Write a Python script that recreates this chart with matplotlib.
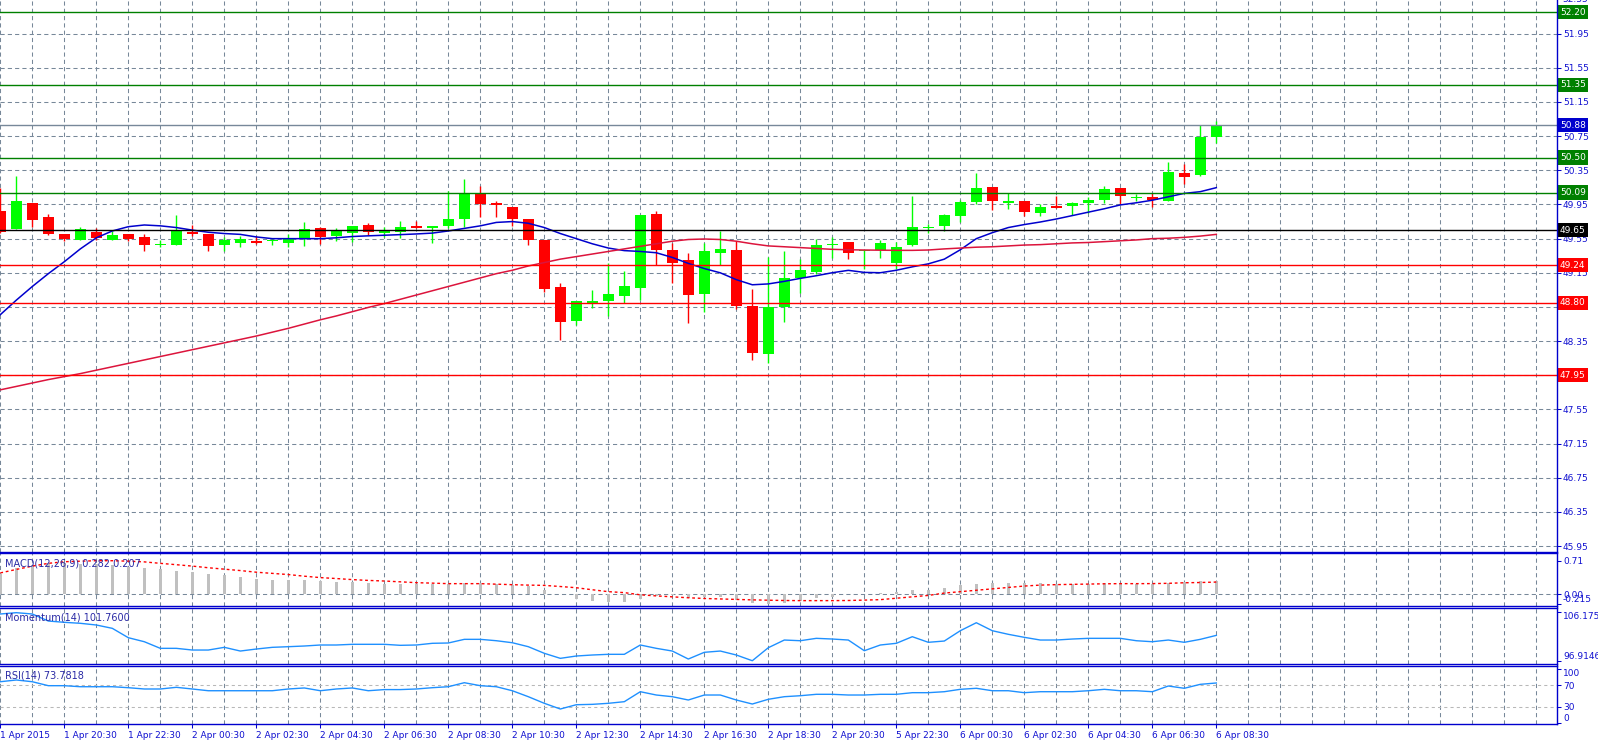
import numpy as np
import matplotlib.pyplot as plt
from matplotlib.lines import Line2D
from matplotlib.transforms import offset_copy

# ---- data: 30 min candles, index 0 = 1 Apr 18:30 ----
opens = [49.873, 49.663, 49.967, 49.803, 49.604, 49.538, 49.628, 49.538, 49.604, 49.569,
         49.477, 49.476, 49.632, 49.604, 49.476, 49.503, 49.526, 49.522, 49.499, 49.554,
         49.675, 49.581, 49.620, 49.710, 49.616, 49.632, 49.698, 49.675, 49.702, 49.784,
         50.073, 49.971, 49.920, 49.780, 49.538, 48.984, 48.586, 48.793, 48.820, 48.878,
         48.972, 49.839, 49.417, 49.300, 48.902, 49.382, 49.417, 48.761, 48.203, 48.750,
         49.089, 49.159, 49.481, 49.511, 49.408, 49.417, 49.265, 49.476, 49.680, 49.702,
         49.815, 49.979, 50.155, 49.973, 49.991, 49.854, 49.932, 49.932, 49.971, 50.006,
         50.143, 50.028, 50.038, 49.995, 50.322, 50.295, 50.744]
highs = [50.139, 50.283, 49.967, 49.838, 49.604, 49.686, 49.675, 49.635, 49.604, 49.604,
         49.534, 49.827, 49.706, 49.604, 49.565, 49.585, 49.585, 49.550, 49.604, 49.749,
         49.690, 49.671, 49.702, 49.733, 49.690, 49.757, 49.757, 49.698, 50.108, 50.248,
         50.166, 49.990, 49.920, 49.780, 49.538, 49.027, 48.820, 48.949, 49.261, 49.171,
         49.827, 49.874, 49.503, 49.382, 49.499, 49.643, 49.522, 48.960, 49.339, 49.405,
         49.312, 49.546, 49.565, 49.511, 49.414, 49.534, 49.511, 50.049, 49.717, 49.839,
         50.002, 50.322, 50.155, 50.088, 49.991, 49.956, 50.053, 49.983, 50.041, 50.166,
         50.143, 50.069, 50.080, 50.451, 50.424, 50.880, 50.927]
lows = [49.620, 49.663, 49.690, 49.589, 49.522, 49.538, 49.538, 49.538, 49.522, 49.409,
        49.456, 49.476, 49.581, 49.409, 49.405, 49.456, 49.487, 49.479, 49.456, 49.468,
        49.483, 49.526, 49.514, 49.592, 49.573, 49.561, 49.675, 49.503, 49.678, 49.690,
        49.807, 49.807, 49.702, 49.479, 48.929, 48.363, 48.543, 48.742, 48.644, 48.793,
        48.835, 49.237, 49.034, 48.566, 48.695, 49.237, 48.726, 48.129, 48.090, 48.574,
        48.917, 49.136, 49.327, 49.312, 49.194, 49.323, 49.194, 49.464, 49.616, 49.640,
        49.749, 49.956, 49.885, 49.897, 49.819, 49.815, 49.913, 49.827, 49.846, 49.963,
        49.956, 49.991, 49.924, 49.995, 50.190, 50.283, 50.666]
closes = [49.624, 49.991, 49.768, 49.608, 49.542, 49.663, 49.557, 49.596, 49.546, 49.476,
          49.481, 49.643, 49.608, 49.464, 49.538, 49.542, 49.503, 49.526, 49.550, 49.663,
          49.573, 49.643, 49.702, 49.632, 49.651, 49.686, 49.675, 49.698, 49.780, 50.088,
          49.959, 49.940, 49.780, 49.538, 48.964, 48.578, 48.820, 48.820, 48.902, 48.996,
          49.827, 49.417, 49.269, 48.890, 49.405, 49.429, 48.765, 48.215, 48.753, 49.089,
          49.183, 49.476, 49.485, 49.382, 49.414, 49.499, 49.452, 49.686, 49.684, 49.827,
          49.983, 50.143, 49.995, 49.977, 49.866, 49.920, 49.913, 49.967, 50.006, 50.131,
          50.053, 50.032, 50.002, 50.334, 50.275, 50.744, 50.880]
ma_fast = [48.66, 48.83, 48.99, 49.14, 49.28, 49.43, 49.56, 49.64, 49.69, 49.71,
           49.70, 49.68, 49.65, 49.625, 49.61, 49.60, 49.57, 49.55, 49.55, 49.55,
           49.55, 49.56, 49.575, 49.583, 49.59, 49.597, 49.605, 49.615, 49.64, 49.67,
           49.70, 49.74, 49.75, 49.73, 49.68, 49.61, 49.55, 49.49, 49.44, 49.41,
           49.40, 49.385, 49.33, 49.26, 49.20, 49.15, 49.07, 49.01, 49.02, 49.05,
           49.085, 49.116, 49.151, 49.179, 49.155, 49.151, 49.18, 49.22, 49.255, 49.31,
           49.42, 49.55, 49.62, 49.68, 49.715, 49.745, 49.78, 49.82, 49.86, 49.90,
           49.945, 49.97, 50.00, 50.04, 50.08, 50.10, 50.147]
ma_slow = [47.78, 47.82, 47.86, 47.90, 47.935, 47.97, 48.01, 48.05, 48.09, 48.13,
           48.17, 48.21, 48.25, 48.29, 48.33, 48.37, 48.41, 48.455, 48.50, 48.55,
           48.60, 48.645, 48.695, 48.745, 48.79, 48.84, 48.89, 48.94, 48.99, 49.04,
           49.09, 49.14, 49.18, 49.23, 49.27, 49.31, 49.34, 49.37, 49.40, 49.43,
           49.46, 49.49, 49.52, 49.54, 49.546, 49.54, 49.52, 49.49, 49.465, 49.455,
           49.445, 49.435, 49.425, 49.42, 49.417, 49.415, 49.413, 49.413, 49.417, 49.43,
           49.44, 49.45, 49.455, 49.465, 49.475, 49.48, 49.49, 49.50, 49.505, 49.515,
           49.525, 49.535, 49.55, 49.555, 49.565, 49.58, 49.60]
macd_hist = [0.437, 0.545, 0.617, 0.654, 0.654, 0.639, 0.639, 0.617, 0.580, 0.545,
             0.524, 0.494, 0.465, 0.422, 0.400, 0.364, 0.329, 0.307, 0.307, 0.292,
             0.277, 0.255, 0.255, 0.234, 0.221, 0.206, 0.221, 0.206, 0.206, 0.234,
             0.234, 0.221, 0.199, 0.162, 0.076, -0.010, -0.104, -0.141, -0.177, -0.177,
             -0.104, -0.032, -0.030, -0.082, -0.060, -0.060, -0.126, -0.199, -0.212, -0.199,
             -0.141, -0.082, -0.060, -0.010, -0.010, 0.018, 0.040, 0.076, 0.090, 0.134,
             0.184, 0.221, 0.240, 0.240, 0.240, 0.240, 0.221, 0.221, 0.221, 0.240,
             0.240, 0.221, 0.221, 0.240, 0.255, 0.270, 0.282]
macd_signal = [0.45, 0.524, 0.595, 0.654, 0.688, 0.70, 0.71, 0.71, 0.70, 0.685,
               0.654, 0.625, 0.595, 0.56, 0.53, 0.50, 0.465, 0.44, 0.415, 0.38,
               0.35, 0.33, 0.307, 0.29, 0.277, 0.26, 0.242, 0.232, 0.221, 0.221,
               0.221, 0.21, 0.199, 0.19, 0.184, 0.16, 0.134, 0.091, 0.05, 0.03,
               -0.017, -0.04, -0.06, -0.08, -0.095, -0.105, -0.115, -0.125, -0.132, -0.138,
               -0.141, -0.141, -0.141, -0.138, -0.13, -0.12, -0.09, -0.06, -0.03, 0.02,
               0.05, 0.08, 0.11, 0.14, 0.17, 0.19, 0.20, 0.206, 0.212, 0.218,
               0.221, 0.221, 0.222, 0.228, 0.24, 0.245, 0.255]
momentum = [105.80, 106.05, 105.80, 104.47, 104.23, 104.04, 103.72, 103.09, 101.32, 100.56,
            99.31, 99.31, 98.99, 98.99, 99.50, 98.80, 99.18, 99.50, 99.62, 99.75,
            99.94, 99.94, 100.07, 100.07, 100.07, 99.88, 99.94, 100.26, 100.32, 101.01,
            101.01, 100.75, 100.37, 99.62, 98.37, 97.42, 97.86, 98.05, 98.18, 98.18,
            99.94, 99.31, 98.80, 97.29, 98.56, 98.80, 98.05, 96.97, 99.43, 100.88,
            100.75, 101.20, 101.07, 100.88, 98.86, 99.94, 100.26, 101.51, 100.45, 100.69,
            102.64, 104.15, 102.64, 101.96, 101.39, 100.88, 100.88, 101.07, 101.20, 101.20,
            101.20, 100.75, 100.56, 100.88, 100.45, 101.01, 101.76]
rsi = [76.1, 79.3, 76.1, 68.8, 68.8, 66.9, 66.9, 66.9, 65.1, 62.7,
       62.7, 65.8, 62.7, 59.5, 59.5, 59.5, 59.5, 59.5, 62.7, 64.6,
       59.5, 62.7, 64.6, 59.5, 61.6, 61.6, 62.7, 65.1, 66.9, 74.3,
       68.8, 66.9, 59.5, 48.5, 36.3, 25.8, 33.7, 34.4, 36.3, 39.3,
       57.7, 51.6, 48.5, 42.4, 51.6, 51.6, 42.4, 35.0, 43.7, 48.5,
       50.3, 52.9, 52.9, 51.6, 51.6, 52.9, 52.9, 55.9, 55.9, 57.7,
       62.1, 64.0, 59.5, 59.5, 55.9, 57.7, 57.7, 57.7, 59.5, 62.1,
       59.5, 59.5, 57.7, 68.2, 64.0, 71.3, 73.78]

levels = [52.20, 51.35, 50.88, 50.50, 50.09, 49.65, 49.24, 48.80, 47.95]
level_line_colors = ['#008000', '#008000', '#778899', '#008000', '#008000',
                     '#000000', '#FF0000', '#FF0000', '#FF0000']
level_box_colors = ['#008000', '#008000', '#0000CD', '#008000', '#008000',
                    '#000000', '#FF0000', '#FF0000', '#FF0000']
time_labels = ['1 Apr 2015', '1 Apr 20:30', '1 Apr 22:30', '2 Apr 00:30', '2 Apr 02:30',
               '2 Apr 04:30', '2 Apr 06:30', '2 Apr 08:30', '2 Apr 10:30', '2 Apr 12:30',
               '2 Apr 14:30', '2 Apr 16:30', '2 Apr 18:30', '2 Apr 20:30', '5 Apr 22:30',
               '6 Apr 00:30', '6 Apr 02:30', '6 Apr 04:30', '6 Apr 06:30', '6 Apr 08:30']
price_ticks = [45.95, 46.35, 46.75, 47.15, 47.55, 47.95, 48.35, 48.75, 49.15, 49.55,
               49.95, 50.35, 50.75, 51.15, 51.55, 51.95]

# ---- layout in pixels ----
W, H = 1598, 744
AX_R = 1556.7
BLUE = '#0000CD'
TXT = '#1010D0'
GRID = '#778899'
FS = 6.5

fig = plt.figure(figsize=(W / 100, H / 100), dpi=100)
fig.patch.set_facecolor('white')


def panel(top, bottom):
    return fig.add_axes([0, 1 - bottom / H, AX_R / W, (bottom - top) / H])


ax = panel(0, 551.7)
ax_macd = panel(553.3, 605.7)
ax_mom = panel(607.7, 664.0)
ax_rsi = panel(666.0, 724.3)

n = len(opens)
x = np.arange(n)
xlim = (-0.02, (AX_R - 0.3) / 16)

for a in (ax, ax_macd, ax_mom, ax_rsi):
    a.set_xlim(*xlim)
    a.set_facecolor('white')
    for s in ('left', 'right'):
        a.spines[s].set_visible(False)
    for s in ('top', 'bottom'):
        a.spines[s].set_color(BLUE)
        a.spines[s].set_linewidth(1.0)
    a.yaxis.tick_right()
    a.tick_params(axis='y', direction='out', length=3, width=0.75, color=BLUE,
                  labelcolor=TXT, labelsize=FS, pad=1.5)
    a.tick_params(axis='x', length=0, labelbottom=False)
    for k in range(0, 98, 2):
        a.axvline(k, color=GRID, lw=0.75, dashes=(4, 3), zorder=0.5)
ax.spines['top'].set_visible(False)

# ---- main price panel ----
ax.set_ylim(45.885, 52.344)
ax.set_yticks(price_ticks)
ax.set_yticklabels([f'{t:.2f}' for t in price_ticks])
ax.grid(axis='y', color=GRID, lw=0.75, dashes=(4, 3), zorder=0.5)
ax.set_axisbelow(True)

o = np.array(opens); c = np.array(closes)
up = c >= o
cols = np.where(up, '#00FF00', '#FF0000')
ax.vlines(x, lows, highs, colors=cols, lw=1.0, zorder=2)
body_lo = np.minimum(o, c)
body_h = np.maximum(np.abs(c - o), 0.012)
ax.bar(x, body_h, bottom=body_lo, width=0.69, color=cols, linewidth=0, zorder=2.5)

ax.plot(x, ma_fast, color='#0000CD', lw=1.1, zorder=3)
ax.plot(x, ma_slow, color='#DC143C', lw=1.1, zorder=3)

box_tr = offset_copy(ax.get_yaxis_transform(), fig=fig, x=3.2, y=0, units='dots')
for lv, lc, bc in zip(levels, level_line_colors, level_box_colors):
    ax.axhline(lv, color=lc, lw=1.0, zorder=3.5)
    ax.text(1.0, lv, f'{lv:.2f}', transform=box_tr, color='white', fontsize=FS,
            va='center', ha='left', clip_on=False, zorder=6,
            bbox=dict(boxstyle='square,pad=0.28', fc=bc, ec='none'))
ax.text(1.0, 52.35, '52.35', transform=offset_copy(ax.get_yaxis_transform(), fig=fig,
        x=5.5, y=0, units='dots'), color=TXT, fontsize=FS, va='center', ha='left',
        clip_on=False)

# ---- MACD ----
ax_macd.set_ylim(-0.249, 0.868)
ax_macd.bar(x, macd_hist, width=0.19, color='#C0C0C0', linewidth=0, zorder=2)
ax_macd.plot(x, macd_signal, color='#FF0000', lw=1.0, dashes=(2, 2), zorder=3)
ax_macd.axhline(0, color=GRID, lw=0.75, dashes=(4, 3), zorder=0.5)
ax_macd.set_yticks([0.71, 0.0, -0.215])
ax_macd.set_yticklabels(['0.71', '0.00', '-0.215'])
ax_macd.get_yticklabels()[2].set_va('bottom')

# ---- Momentum ----
ax_mom.set_ylim(96.35, 106.99)
ax_mom.plot(x, momentum, color='#1E90FF', lw=1.0, zorder=3)
ax_mom.set_yticks([106.1751, 96.9146])
ax_mom.set_yticklabels(['106.1751', '96.9146'])
ax_mom.get_yticklabels()[0].set_va('top')
ax_mom.get_yticklabels()[1].set_va('bottom')

# ---- RSI ----
ax_rsi.set_ylim(-2.4, 105.1)
ax_rsi.plot(x, rsi, color='#1E90FF', lw=1.0, zorder=3)
for lv in (70, 30):
    ax_rsi.axhline(lv, color='#B8B8B8', lw=0.75, dashes=(3, 3), zorder=0.5)
ax_rsi.set_yticks([100, 70, 30, 0])
ax_rsi.set_yticklabels(['100', '70', '30', '0'])
ax_rsi.get_yticklabels()[0].set_va('top')
ax_rsi.get_yticklabels()[3].set_va('bottom')

ax_rsi.set_xticks(np.arange(0, 4 * len(time_labels), 4))
ax_rsi.set_xticklabels(time_labels)
ax_rsi.tick_params(axis='x', direction='out', length=3, width=0.75, color=BLUE,
                   labelcolor=TXT, labelsize=FS, pad=2, labelbottom=True)
for lab in ax_rsi.get_xticklabels():
    lab.set_ha('left')

# indicator captions
def ftext(px, py, s):
    fig.text(px / W, 1 - py / H, s, color='#2A2AA5', fontsize=FS + 0.5,
             va='center', ha='left', zorder=10)

ftext(5, 563, 'MACD(12,26,9) 0.282 0.207')
ftext(5, 617.7, 'Momentum(14) 101.7600')
ftext(5, 676, 'RSI(14) 73.7818')

# continuous price axis line on the right
fig.add_artist(Line2D([AX_R / W, AX_R / W], [1 - 724.3 / H, 1.0],
                      transform=fig.transFigure, color=BLUE, lw=1.0))

plt.savefig('out.png', dpi=100)
